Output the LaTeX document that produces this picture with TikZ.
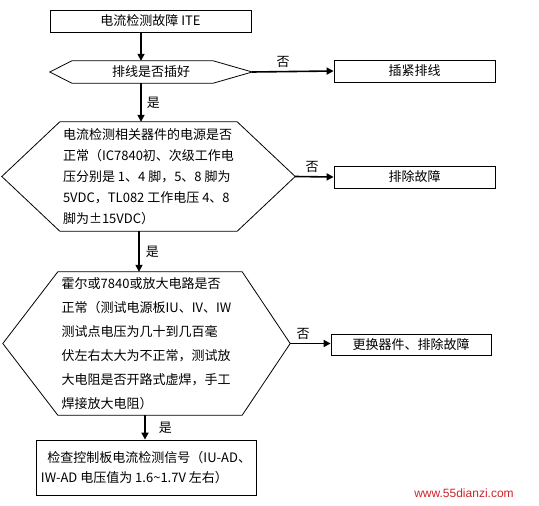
\documentclass[tikz,border=0pt]{standalone}
\usepackage{fontspec}
\setmainfont{Noto Sans CJK SC}
\newfontfamily\webfont{Liberation Sans}
\usetikzlibrary{arrows.meta}
\definecolor{fc@red}{RGB}{205, 35, 45}

\begin{document}
\begin{tikzpicture}[x=1pt, y=-1pt,
  box/.style  = {rectangle, draw, line width=0.8pt, minimum height=22pt,
                 inner sep=1pt, font=\fontsize{13}{16}\selectfont},
  hexa/.style = {rectangle, inner sep=0pt, align=left},
  arr/.style  = {-{Triangle[length=7pt,width=7pt]}, line width=1.6pt},
  lbl/.style  = {font=\fontsize{13}{16}\selectfont, inner sep=1pt},
]
  \useasboundingbox (0,0) rectangle (539,506);

  \node[box] (start) at (150.5,21) [minimum width=201pt] {电流检测故障 ITE};

  \node[hexa, minimum width=202pt, minimum height=22pt,
        font=\fontsize{13}{16}\selectfont] (q1) at (151,72) {排线是否插好};
  \draw[line width=0.8pt] (q1.west) -- ([xshift=22pt]q1.north west)
    -- ([xshift=-39pt]q1.north east) -- (q1.east)
    -- ([xshift=-39pt]q1.south east) -- ([xshift=22pt]q1.south west) -- cycle;
  \node[box] (fix1) at (414.5,71) [minimum width=161pt] {插紧排线};

  \node[hexa, minimum width=293pt, minimum height=109pt,
        font=\fontsize{13}{21}\selectfont] (q2) at (148.5,176.5)
    {电流检测相关器件的电源是否\\
     正常（IC7840初、次级工作电\\
     压分别是 1、4 脚，5、8 脚为\\
     5VDC，TL082 工作电压 4、8\\
     脚为±15VDC）};
  \draw[line width=0.8pt] (q2.west) -- ([xshift=58pt]q2.north west)
    -- ([xshift=-58pt]q2.north east) -- (q2.east)
    -- ([xshift=-58pt]q2.south east) -- ([xshift=58pt]q2.south west) -- cycle;
  \node[box] (fix2) at (414.5,177) [minimum width=161pt] {排除故障};

  \node[hexa, minimum width=287pt, minimum height=143pt,
        font=\fontsize{13}{24}\selectfont] (q3) at (146.5,343.5)
    {霍尔或7840或放大电路是否\\
     正常（测试电源板IU、IV、IW\\
     测试点电压为几十到几百毫\\
     伏左右太大为不正常，测试放\\
     大电阻是否开路式虚焊，手工\\
     焊接放大电阻）};
  \draw[line width=0.8pt] (q3.west) -- ([xshift=55pt]q3.north west)
    -- ([xshift=-48pt]q3.north east) -- (q3.east)
    -- ([xshift=-48pt]q3.south east) -- ([xshift=55pt]q3.south west) -- cycle;
  \node[box] (fix3) at (411,345) [minimum width=160pt, minimum height=21pt] {更换器件、排除故障};

  \node[box, align=left, minimum width=220pt, minimum height=55pt,
        font=\fontsize{13}{20}\selectfont] (check) at (146,467.5)
    {\hspace*{0.5em}检查控制板电流检测信号（IU-AD、\\
     IW-AD 电压值为 1.6\textasciitilde1.7V 左右）};

  \draw[arr] ([xshift=-9.5pt]start.south) -- ([xshift=-10pt]q1.north);
  \draw[arr] ([xshift=-10pt]q1.south) -- ([xshift=-7.5pt]q2.north)
    node[lbl, midway, right=4pt] {是};
  \draw[arr] ([xshift=-9.5pt]q2.south) -- ([xshift=-7.5pt]q3.north)
    node[lbl, midway, right=5pt] {是};
  \draw[arr] ([xshift=-1.5pt]q3.south) -- ([xshift=-1pt]check.north)
    node[lbl, midway, right=12pt] {是};

  \draw[arr] (q1.east) -- (fix1.west) node[lbl, pos=0.38, above=2pt] {否};
  \draw[arr] (q2.east) -- (fix2.west) node[lbl, pos=0.44, above=2pt] {否};
  \draw[arr] (q3.east) -- (q3.east -| fix3.west) node[lbl, pos=0.32, above=2pt] {否};

  \node[font=\webfont\fontsize{12}{14}\selectfont, text=fc@red, inner sep=0pt]
    (web) at (464,493) {www.55dianzi.com};
\end{tikzpicture}
\end{document}
